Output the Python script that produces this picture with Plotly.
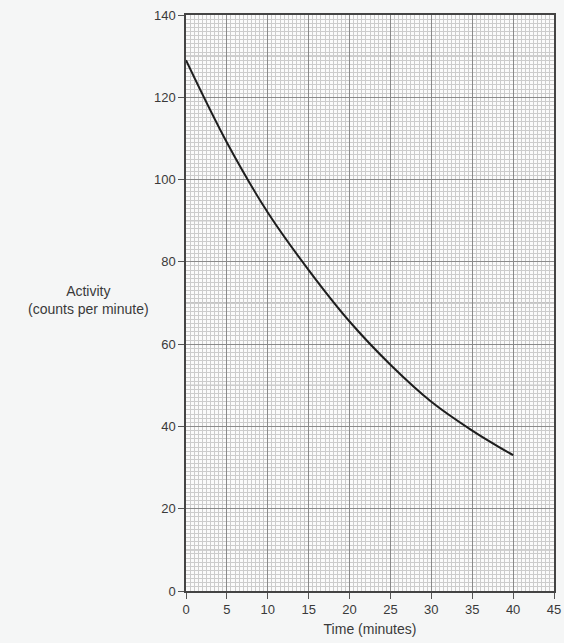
import plotly.graph_objects as go

time_min = [0, 5, 10, 15, 20, 25, 30, 35, 40]
activity = [129, 109, 92, 78, 65.5, 55, 46, 39, 33]

x_ticks = [0, 5, 10, 15, 20, 25, 30, 35, 40, 45]
y_ticks = [0, 20, 40, 60, 80, 100, 120, 140]

fig = go.Figure()
fig.add_trace(go.Scatter(
    x=time_min, y=activity, mode="lines",
    line=dict(color="#1e1e1e", width=2, shape="spline", smoothing=1.0),
    hoverinfo="skip", showlegend=False,
))

font = dict(family="Liberation Sans, Arial, sans-serif", size=13, color="#3a3a3a")
title_font = dict(family="Liberation Sans, Arial, sans-serif", size=14, color="#3a3a3a")

fig.update_xaxes(
    range=[0, 45], tickvals=x_ticks, ticks="outside", ticklen=6, tickcolor="#555555",
    showline=True, linecolor="#444444", linewidth=1.5, mirror=True,
    showgrid=True, gridcolor="#8a8a8a", gridwidth=1,
    minor=dict(dtick=0.5, showgrid=True, gridcolor="#cccccc", gridwidth=1),
    zeroline=False, tickfont=font,
    title=dict(text="Time (minutes)", font=title_font, standoff=8),
)
fig.update_yaxes(
    range=[0, 140], tickvals=y_ticks, ticks="outside", ticklen=6, tickcolor="#555555",
    showline=True, linecolor="#444444", linewidth=1.5, mirror=True,
    showgrid=True, gridcolor="#8a8a8a", gridwidth=1,
    minor=dict(dtick=1, showgrid=True, gridcolor="#cccccc", gridwidth=1),
    zeroline=False, tickfont=font,
)
for v in range(10, 140, 20):
    fig.add_shape(type="line", xref="paper", yref="y", x0=0, x1=1, y0=v, y1=v,
                  line=dict(color="#8a8a8a", width=1), layer="below")

fig.add_annotation(
    text="Activity<br>(counts per minute)", xref="paper", yref="paper",
    x=-0.266, y=0.505, xanchor="center", yanchor="middle",
    showarrow=False, font=title_font, align="center",
)

fig.update_layout(
    width=564, height=643,
    margin=dict(l=186, r=10, t=15, b=52, autoexpand=False),
    paper_bgcolor="#f5f6f6", plot_bgcolor="#fbfbfb",
    font=font,
)
fig.write_html("out.html", config={"displayModeBar": False},
               post_script="document.body.style.margin='0';")
